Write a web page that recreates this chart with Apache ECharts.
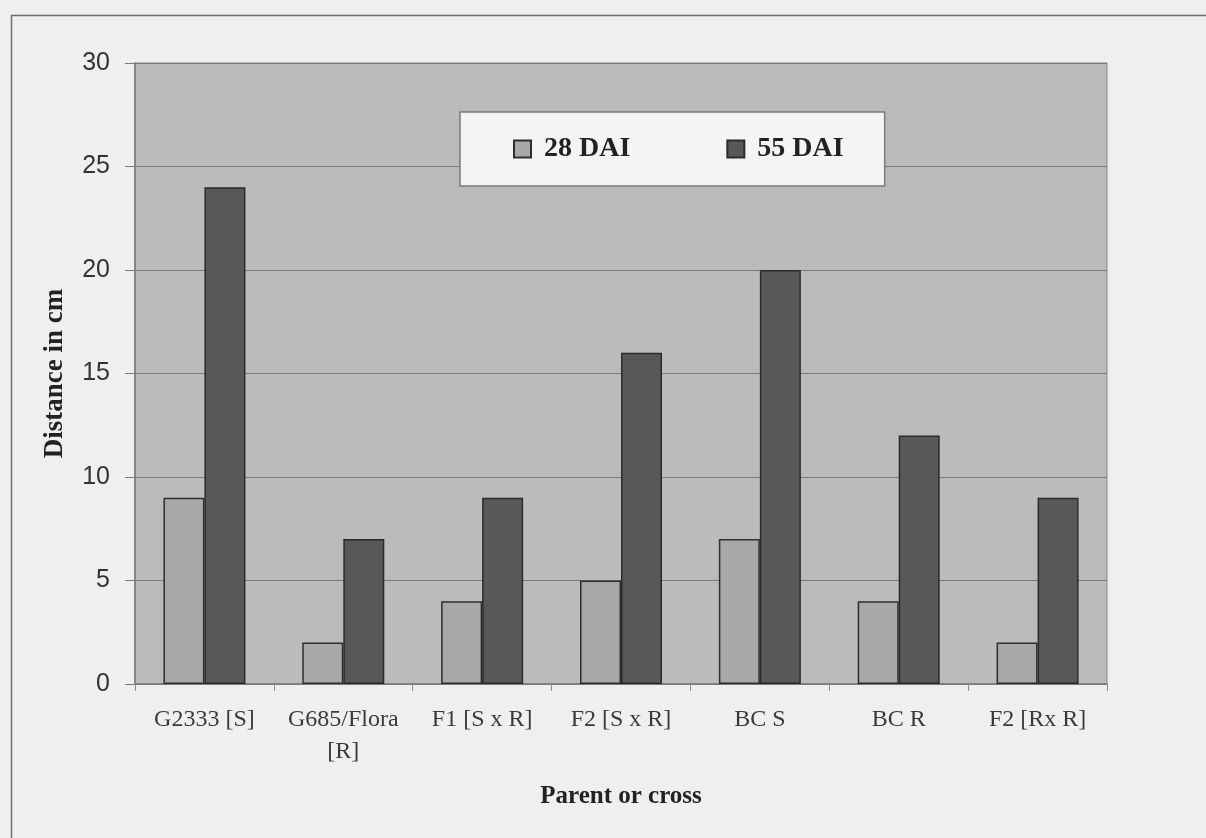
<!DOCTYPE html>
<html>
<head>
<meta charset="utf-8">
<script src="https://cdn.jsdelivr.net/npm/echarts@6/dist/echarts.min.js"></script>
<style>
  html, body { margin: 0; padding: 0; background: #efefef; }
  #chart { width: 1206px; height: 838px; }
</style>
</head>
<body>
<div id="chart"></div>
<script>
// Parents and crosses on the category axis
const categories = ['G2333 [S]', 'G685/Flora\n[R]', 'F1 [S x R]', 'F2 [S x R]', 'BC S', 'BC R', 'F2 [Rx R]'];
// Distance in cm at 28 and 55 days after inoculation
const dai28 = [9, 2, 4, 5, 7, 4, 2];
const dai55 = [24, 7, 9, 16, 20, 12, 9];
const seriesNames = ['28 DAI', '55 DAI'];
const yTicks = { min: 0, max: 30, interval: 5 };

const serif = '"Liberation Serif", "Times New Roman", serif';
const sans = '"Liberation Sans", Arial, sans-serif';

const chart = echarts.init(document.getElementById('chart'), null, { renderer: 'canvas' });

chart.setOption({
  backgroundColor: '#efefef',
  animation: false,
  graphic: [{
    type: 'rect',
    left: 9, top: 13,
    shape: { x: 0, y: 0, width: 1260, height: 900 },
    style: { fill: 'none', stroke: '#6e6e6e', lineWidth: 1.5 },
    silent: true
  }],
  grid: {
    left: 135, right: 99, top: 63, bottom: 154,
    show: true,
    backgroundColor: '#bbbbbb',
    borderColor: '#858585',
    borderWidth: 1
  },
  legend: {
    left: 460, top: 112,
    orient: 'horizontal',
    backgroundColor: '#f4f4f4',
    borderColor: '#7a7a7a',
    borderWidth: 1.5,
    padding: [23, 41, 23, 53],
    itemGap: 96,
    itemWidth: 17, itemHeight: 17,
    icon: 'rect',
    textStyle: { fontFamily: serif, fontWeight: 'bold', fontSize: 28, color: '#222', padding: [0, 0, 0, 8] },
    data: seriesNames
  },
  xAxis: {
    type: 'category',
    data: categories,
    name: 'Parent or cross',
    nameLocation: 'middle',
    nameGap: 100,
    nameTextStyle: { fontFamily: serif, fontWeight: 'bold', fontSize: 25, color: '#222' },
    axisLine: { lineStyle: { color: '#7a7a7a', width: 1.5 } },
    axisTick: { show: true, alignWithLabel: false, length: 7, lineStyle: { color: '#8a8a8a' } },
    axisLabel: { fontFamily: serif, fontSize: 24, color: '#3a3a3a', margin: 20, lineHeight: 32, interval: 0 }
  },
  yAxis: {
    type: 'value',
    min: yTicks.min, max: yTicks.max, interval: yTicks.interval,
    name: 'Distance in cm',
    nameLocation: 'middle',
    nameGap: 66,
    nameTextStyle: { fontFamily: serif, fontWeight: 'bold', fontSize: 27, color: '#222' },
    axisLine: { show: true, lineStyle: { color: '#7a7a7a', width: 1.5 } },
    axisTick: { show: true, length: 10, lineStyle: { color: '#7a7a7a' } },
    axisLabel: { fontFamily: sans, fontSize: 25, color: '#333', margin: 25 },
    splitLine: { show: true, lineStyle: { color: '#7a7a7a', width: 1.2 } }
  },
  series: [
    {
      name: seriesNames[0],
      type: 'bar',
      data: dai28,
      barWidth: 41,
      barGap: '0%',
      itemStyle: { color: '#a8a8a8', borderColor: '#2e2e2e', borderWidth: 1.5 }
    },
    {
      name: seriesNames[1],
      type: 'bar',
      data: dai55,
      barWidth: 41,
      barGap: '0%',
      itemStyle: { color: '#585858', borderColor: '#2a2a2a', borderWidth: 1.5 }
    }
  ]
});
</script>
</body>
</html>
